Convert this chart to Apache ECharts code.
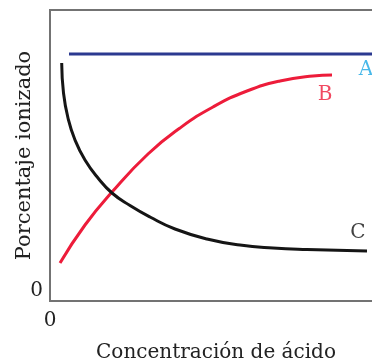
<!DOCTYPE html>
<html><head><meta charset="utf-8">
<script src="https://cdn.jsdelivr.net/npm/echarts@6/dist/echarts.min.js"></script>
<style>html,body{margin:0;padding:0;background:#fff}#c{width:372px;height:362px}</style>
</head><body><div id="c"></div>
<script>
// x: concentration units, y: percent ionized units (arbitrary)
const xTicks = [0];
const yTicks = [0];
const seriesA = [[19, 247], [360, 247]];
const seriesB = [[10, 38], [35, 76], [62, 109], [98, 147], [130, 173], [163, 194], [197, 210], [230, 220], [263, 225], [282, 226]];
const seriesC = [[11.7, 238], [13.5, 208], [18, 183], [25, 161], [35, 141], [48, 123], [62, 108], [80, 95.5], [100, 84], [125, 72], [157, 62], [190, 56], [223, 53], [257, 51.5], [317, 50]];
const curveLabels = [
  { name: 'A', value: [316, 231], color: '#1aa6e4' },
  { name: 'B', value: [275, 206], color: '#ed1c3a' },
  { name: 'C', value: [308, 68], color: '#111111' }
];
const xTitle = 'Concentración de ácido';
const yTitle = 'Porcentaje ionizado';

const font = 'DejaVu Serif';
const chart = echarts.init(document.getElementById('c'));
chart.setOption({
  animation: false,
  grid: { left: 50, top: 10, width: 360, height: 291, outerBoundsMode: 'none', containLabel: false, show: true, borderColor: '#737373', borderWidth: 2, backgroundColor: 'transparent' },
  xAxis: {
    type: 'value', min: 0, max: 360, interval: 360,
    axisLine: { show: false }, axisTick: { show: false }, splitLine: { show: false },
    axisLabel: { margin: 10, fontFamily: font, fontSize: 20, color: '#222', formatter: v => xTicks.includes(v) ? String(v) : '' },
    name: xTitle, nameLocation: 'middle', nameGap: 42, nameMoveOverlap: false,
    nameTextStyle: { fontFamily: font, fontSize: 20, color: '#222', padding: [0, 28, 0, 0] }
  },
  yAxis: {
    type: 'value', min: 0, max: 291, interval: 291,
    axisLine: { show: false }, axisTick: { show: false }, splitLine: { show: false },
    axisLabel: { margin: 7, fontFamily: font, fontSize: 20, color: '#222', verticalAlign: 'bottom', formatter: v => yTicks.includes(v) ? String(v) : '' },
    name: yTitle, nameLocation: 'middle', nameGap: 15, nameRotate: 90, nameMoveOverlap: false,
    nameTextStyle: { fontFamily: font, fontSize: 21, color: '#222' }
  },
  series: [
    { type: 'line', data: seriesA, symbol: 'none', lineStyle: { color: '#2b3990', width: 3 } },
    { type: 'line', data: seriesB, symbol: 'none', smooth: 0.5, lineStyle: { color: '#ed1c3a', width: 3 } },
    { type: 'line', data: seriesC, symbol: 'none', smooth: 0.5, lineStyle: { color: '#151515', width: 3 } },
    { type: 'scatter', symbolSize: 0, data: curveLabels.map(l => ({ name: l.name, value: l.value, label: { color: l.color } })),
      label: { show: true, position: 'inside', formatter: p => p.name, fontFamily: font, fontSize: 20 } }
  ]
});
</script></body></html>
